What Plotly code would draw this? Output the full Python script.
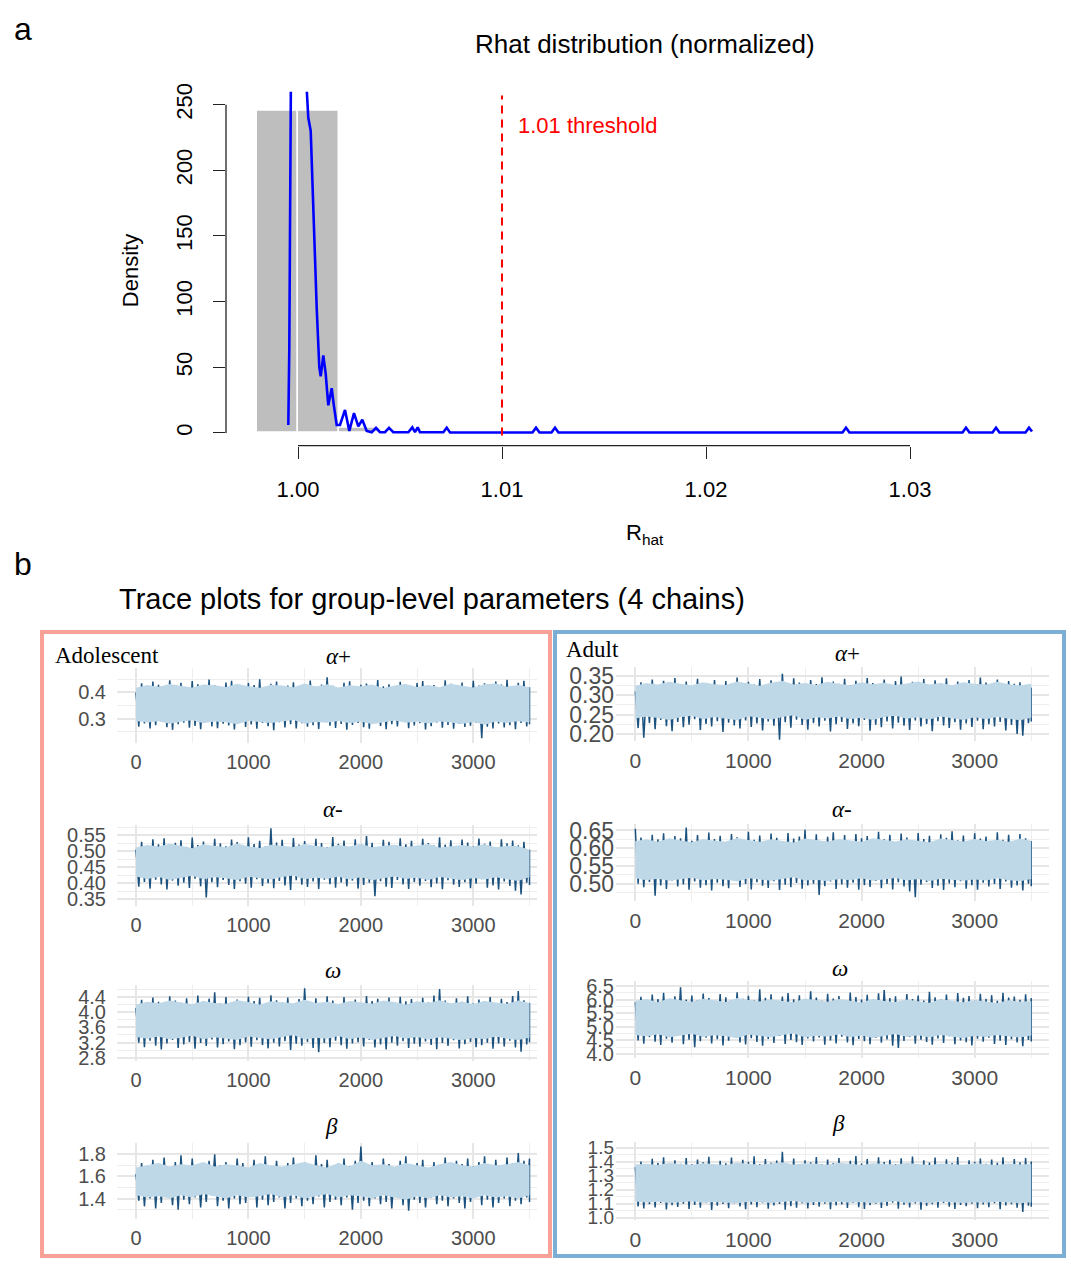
import plotly.graph_objects as go

W, H = 1071, 1267

# ---------------- Panel a: Rhat distribution ----------------
rhat_bin_left = [0.998, 1.000, 1.002]
rhat_bin_width = [0.002, 0.002, 0.002]
rhat_bin_density = [245, 245, 4]

rhat_x = [0.999525, 0.999574, 0.999657, 0.99985, 1.00005, 1.00025, 1.000426, 1.000505,
          1.000623, 1.00075, 1.000917, 1.001044, 1.001113, 1.00124, 1.001358, 1.001485,
          1.001652, 1.001765, 1.001897, 1.002059, 1.002304, 1.002515, 1.002745, 1.002956,
          1.003152, 1.003368, 1.003613, 1.003824, 1.00402, 1.004265, 1.004461, 1.004672,
          1.005407, 1.005603, 1.005735, 1.005868, 1.00598, 1.007123, 1.007289, 1.007451,
          1.011495, 1.011667, 1.011838, 1.012426, 1.012598, 1.012769, 1.026691, 1.026863,
          1.027034, 1.032574, 1.032745, 1.032917, 1.034044, 1.034216, 1.034387, 1.035662,
          1.035833, 1.03598]
rhat_density = [6, 65, 280, 700, 800, 700, 262, 240,
                230, 170, 95, 50, 43, 59, 45, 21,
                34, 20, 6, 6, 17.5, 1.5, 15, 5,
                10, 1.5, 0.5, 3.8, 0.5, 0.5, 3.8, 0.5,
                0.5, 4.2, 0.5, 4.2, 0.5, 0.5, 4, 0.3,
                0.3, 4, 0.3, 0.3, 4, 0.3, 0.3, 4,
                0.3, 0.3, 4, 0.3, 0.3, 4, 0.3, 0.3,
                4, 1]
rhat_ticks = [1.00, 1.01, 1.02, 1.03]
rhat_tick_labels = ["1.00", "1.01", "1.02", "1.03"]
density_ticks = [0, 50, 100, 150, 200, 250]
rhat_threshold = 1.01

# ---------------- Panel b: trace plots ----------------
iters = list(range(0, 3600, 100))        # light-band samples
iters_fine = list(range(0, 3550, 50))    # dark-chain samples

adol_aplus_hi = [0.418, 0.428, 0.422, 0.432, 0.425, 0.419, 0.43, 0.427, 0.421, 0.433, 0.424, 0.418, 0.429, 0.426, 0.42, 0.434, 0.423, 0.431, 0.419, 0.427, 0.424, 0.43, 0.417, 0.426, 0.432, 0.421, 0.428, 0.42, 0.433, 0.425, 0.419, 0.431, 0.434, 0.422, 0.428, 0.42]
adol_aplus_lo = [0.292, 0.286, 0.291, 0.281, 0.289, 0.294, 0.283, 0.29, 0.287, 0.279, 0.292, 0.288, 0.284, 0.29, 0.295, 0.281, 0.288, 0.285, 0.292, 0.283, 0.29, 0.279, 0.287, 0.293, 0.285, 0.289, 0.282, 0.29, 0.286, 0.28, 0.288, 0.277, 0.29, 0.284, 0.291, 0.286]
adol_aplus_dk_hi = [0.40, 0.435, 0.418, 0.441, 0.429, 0.412, 0.446, 0.424, 0.437, 0.415,
                    0.443, 0.431, 0.42, 0.449, 0.427, 0.416, 0.438, 0.444, 0.422, 0.413,
                    0.436, 0.428, 0.45, 0.419, 0.433, 0.441, 0.417, 0.426, 0.439, 0.414,
                    0.432, 0.445, 0.421, 0.43, 0.458, 0.425, 0.411, 0.437, 0.442, 0.418,
                    0.429, 0.434, 0.416, 0.447, 0.423, 0.431, 0.414, 0.44, 0.427, 0.419,
                    0.436, 0.443, 0.42, 0.428, 0.415, 0.446, 0.433, 0.421, 0.438, 0.412,
                    0.444, 0.426, 0.435, 0.418, 0.441, 0.43, 0.448, 0.422, 0.437, 0.444, 0.42]
adol_aplus_dk_lo = [0.27, 0.282, 0.263, 0.276, 0.29, 0.268, 0.258, 0.279, 0.285, 0.266,
                    0.273, 0.26, 0.288, 0.271, 0.264, 0.281, 0.275, 0.259, 0.286, 0.269,
                    0.278, 0.262, 0.284, 0.272, 0.257, 0.287, 0.267, 0.279, 0.263, 0.283,
                    0.27, 0.276, 0.261, 0.289, 0.274, 0.265, 0.28, 0.258, 0.277, 0.284,
                    0.268, 0.262, 0.286, 0.273, 0.26, 0.279, 0.271, 0.288, 0.264, 0.275,
                    0.283, 0.259, 0.272, 0.286, 0.266, 0.277, 0.262, 0.281, 0.269, 0.274,
                    0.285, 0.226, 0.27, 0.263, 0.282, 0.267, 0.276, 0.26, 0.284, 0.271, 0.279]

adol_aminus_hi = [0.512, 0.52, 0.515, 0.524, 0.518, 0.51, 0.522, 0.517, 0.513, 0.525, 0.516, 0.511, 0.521, 0.518, 0.514, 0.523, 0.517, 0.512, 0.52, 0.515, 0.524, 0.513, 0.518, 0.521, 0.514, 0.519, 0.523, 0.512, 0.517, 0.52, 0.515, 0.522, 0.513, 0.518, 0.516, 0.505]
adol_aminus_lo = [0.422, 0.414, 0.42, 0.411, 0.418, 0.424, 0.413, 0.419, 0.416, 0.41, 0.421, 0.417, 0.412, 0.42, 0.425, 0.413, 0.418, 0.415, 0.421, 0.412, 0.419, 0.41, 0.416, 0.422, 0.414, 0.418, 0.411, 0.42, 0.415, 0.41, 0.417, 0.412, 0.419, 0.413, 0.408, 0.42]
adol_aminus_dk_hi = [0.505, 0.53, 0.512, 0.538, 0.522, 0.541, 0.509, 0.527, 0.535, 0.514,
                     0.543, 0.52, 0.531, 0.508, 0.539, 0.525, 0.516, 0.537, 0.529, 0.511,
                     0.544, 0.523, 0.533, 0.515, 0.572, 0.528, 0.536, 0.51, 0.542, 0.521,
                     0.532, 0.517, 0.539, 0.526, 0.513, 0.545, 0.524, 0.534, 0.509, 0.538,
                     0.519, 0.548, 0.527, 0.512, 0.536, 0.53, 0.515, 0.541, 0.522, 0.533,
                     0.51, 0.539, 0.526, 0.518, 0.544, 0.521, 0.535, 0.512, 0.537, 0.528,
                     0.516, 0.54, 0.524, 0.531, 0.511, 0.538, 0.525, 0.534, 0.519, 0.53, 0.505]
adol_aminus_dk_lo = [0.39, 0.405, 0.384, 0.412, 0.397, 0.381, 0.409, 0.393, 0.402, 0.386,
                     0.415, 0.391, 0.356, 0.404, 0.388, 0.411, 0.395, 0.383, 0.407, 0.399,
                     0.387, 0.413, 0.392, 0.401, 0.385, 0.408, 0.394, 0.38, 0.41, 0.396,
                     0.389, 0.406, 0.383, 0.412, 0.398, 0.387, 0.403, 0.391, 0.409, 0.384,
                     0.395, 0.402, 0.36, 0.407, 0.39, 0.386, 0.411, 0.397, 0.383, 0.405,
                     0.393, 0.408, 0.388, 0.4, 0.382, 0.41, 0.396, 0.389, 0.404, 0.385,
                     0.399, 0.413, 0.387, 0.394, 0.381, 0.406, 0.392, 0.377, 0.366, 0.402, 0.395]

adol_omega_hi = [4.2, 4.27, 4.23, 4.3, 4.25, 4.21, 4.29, 4.24, 4.22, 4.31, 4.26, 4.2, 4.28, 4.25, 4.23, 4.32, 4.24, 4.27, 4.21, 4.29, 4.25, 4.22, 4.3, 4.26, 4.2, 4.28, 4.24, 4.31, 4.23, 4.27, 4.21, 4.29, 4.25, 4.22, 4.3, 4.24]
adol_omega_lo = [3.35, 3.3, 3.36, 3.28, 3.33, 3.38, 3.29, 3.34, 3.31, 3.27, 3.36, 3.32, 3.29, 3.35, 3.4, 3.28, 3.33, 3.3, 3.37, 3.29, 3.34, 3.27, 3.32, 3.37, 3.3, 3.35, 3.28, 3.34, 3.31, 3.26, 3.33, 3.29, 3.36, 3.3, 3.27, 3.33]
adol_omega_dk_hi = [4.1, 4.32, 4.21, 4.38, 4.27, 4.18, 4.41, 4.3, 4.24, 4.36,
                    4.19, 4.43, 4.28, 4.35, 4.52, 4.22, 4.39, 4.26, 4.33, 4.17,
                    4.4, 4.29, 4.37, 4.2, 4.44, 4.31, 4.25, 4.38, 4.19, 4.34,
                    4.62, 4.27, 4.36, 4.22, 4.41, 4.3, 4.18, 4.39, 4.26, 4.33,
                    4.2, 4.42, 4.29, 4.35, 4.23, 4.38, 4.17, 4.4, 4.28, 4.34,
                    4.21, 4.37, 4.25, 4.43, 4.6, 4.3, 4.19, 4.36, 4.27, 4.41,
                    4.22, 4.33, 4.29, 4.39, 4.18, 4.35, 4.26, 4.42, 4.55, 4.31, 4.24]
adol_omega_dk_lo = [3.2, 3.08, 3.25, 3.12, 3.02, 3.18, 3.27, 3.06, 3.15, 3.22,
                    3.04, 3.19, 3.11, 3.28, 3.07, 3.16, 3.23, 3.03, 3.13, 3.21,
                    3.09, 3.26, 3.14, 3.05, 3.2, 3.1, 3.24, 3.01, 3.17, 3.12,
                    3.22, 3.06, 2.95, 3.19, 3.08, 3.25, 3.13, 3.04, 3.18, 3.21,
                    3.1, 3.27, 3.07, 3.15, 3.02, 3.2, 3.12, 3.24, 3.06, 3.17,
                    3.09, 3.23, 3.14, 3.03, 3.19, 3.11, 3.26, 3.05, 3.16, 3.22,
                    3.08, 3.13, 3.2, 3.04, 3.18, 3.1, 3.25, 3.07, 2.96, 3.15, 3.21]

adol_beta_hi = [1.68, 1.7, 1.72, 1.69, 1.71, 1.7, 1.73, 1.69, 1.71, 1.7, 1.68, 1.72, 1.7, 1.69, 1.71, 1.73, 1.7, 1.68, 1.72, 1.69, 1.74, 1.7, 1.71, 1.69, 1.72, 1.7, 1.68, 1.71, 1.73, 1.7, 1.69, 1.72, 1.7, 1.71, 1.73, 1.7]
adol_beta_lo = [1.43, 1.41, 1.42, 1.4, 1.43, 1.41, 1.44, 1.42, 1.4, 1.43, 1.41, 1.42, 1.44, 1.41, 1.43, 1.4, 1.42, 1.44, 1.41, 1.43, 1.42, 1.4, 1.43, 1.41, 1.39, 1.42, 1.4, 1.43, 1.41, 1.42, 1.4, 1.43, 1.41, 1.42, 1.4, 1.43]
adol_beta_dk_hi = [1.62, 1.72, 1.68, 1.75, 1.7, 1.77, 1.66, 1.73, 1.79, 1.69,
                   1.76, 1.71, 1.67, 1.74, 1.8, 1.7, 1.73, 1.68, 1.76, 1.72,
                   1.67, 1.75, 1.71, 1.78, 1.69, 1.74, 1.66, 1.72, 1.77, 1.7,
                   1.73, 1.68, 1.79, 1.71, 1.75, 1.67, 1.72, 1.76, 1.69, 1.74,
                   1.87, 1.7, 1.73, 1.67, 1.76, 1.71, 1.68, 1.74, 1.78, 1.69,
                   1.72, 1.75, 1.67, 1.73, 1.7, 1.77, 1.68, 1.74, 1.71, 1.76,
                   1.69, 1.73, 1.78, 1.7, 1.75, 1.68, 1.77, 1.72, 1.81, 1.74, 1.76]
adol_beta_dk_lo = [1.38, 1.33, 1.4, 1.31, 1.36, 1.42, 1.34, 1.3, 1.39, 1.35,
                   1.41, 1.32, 1.37, 1.43, 1.33, 1.38, 1.31, 1.4, 1.35, 1.36,
                   1.42, 1.32, 1.39, 1.34, 1.37, 1.41, 1.31, 1.36, 1.4, 1.33,
                   1.38, 1.35, 1.42, 1.32, 1.37, 1.39, 1.34, 1.41, 1.3, 1.36,
                   1.38, 1.33, 1.4, 1.35, 1.37, 1.31, 1.42, 1.34, 1.29, 1.39,
                   1.36, 1.32, 1.41, 1.35, 1.38, 1.33, 1.4, 1.36, 1.31, 1.37,
                   1.42, 1.34, 1.39, 1.32, 1.36, 1.4, 1.33, 1.38, 1.35, 1.41, 1.37]

adult_aplus_hi = [0.325, 0.332, 0.328, 0.335, 0.33, 0.326, 0.334, 0.329, 0.327, 0.336, 0.331, 0.325, 0.333, 0.338, 0.328, 0.332, 0.327, 0.335, 0.33, 0.326, 0.334, 0.329, 0.333, 0.327, 0.331, 0.336, 0.328, 0.332, 0.326, 0.334, 0.33, 0.328, 0.335, 0.329, 0.326, 0.33]
adult_aplus_lo = [0.24, 0.245, 0.241, 0.236, 0.243, 0.247, 0.238, 0.244, 0.24, 0.235, 0.246, 0.242, 0.237, 0.244, 0.248, 0.236, 0.243, 0.24, 0.245, 0.238, 0.242, 0.236, 0.244, 0.247, 0.239, 0.243, 0.237, 0.245, 0.24, 0.236, 0.243, 0.238, 0.244, 0.239, 0.235, 0.242]
adult_aplus_dk_hi = [0.31, 0.334, 0.322, 0.341, 0.327, 0.338, 0.318, 0.345, 0.329, 0.336,
                     0.321, 0.343, 0.332, 0.326, 0.34, 0.319, 0.337, 0.33, 0.346, 0.324,
                     0.335, 0.328, 0.342, 0.32, 0.339, 0.331, 0.356, 0.325, 0.344, 0.333,
                     0.323, 0.34, 0.329, 0.347, 0.321, 0.336, 0.33, 0.343, 0.326, 0.338,
                     0.319, 0.345, 0.332, 0.327, 0.341, 0.324, 0.337, 0.349, 0.322, 0.335,
                     0.329, 0.342, 0.32, 0.339, 0.331, 0.344, 0.325, 0.336, 0.328, 0.34,
                     0.323, 0.346, 0.333, 0.327, 0.341, 0.321, 0.337, 0.33, 0.334, 0.326, 0.32]
adult_aplus_dk_lo = [0.215, 0.19, 0.228, 0.212, 0.236, 0.22, 0.207, 0.231, 0.217, 0.224,
                     0.238, 0.21, 0.226, 0.219, 0.233, 0.205, 0.229, 0.222, 0.214, 0.235,
                     0.218, 0.227, 0.209, 0.232, 0.221, 0.185, 0.23, 0.216, 0.237, 0.223,
                     0.211, 0.228, 0.219, 0.234, 0.206, 0.225, 0.231, 0.213, 0.227, 0.22,
                     0.236, 0.208, 0.224, 0.217, 0.232, 0.214, 0.229, 0.221, 0.21, 0.235,
                     0.219, 0.226, 0.207, 0.233, 0.222, 0.215, 0.23, 0.211, 0.227, 0.218,
                     0.234, 0.212, 0.225, 0.219, 0.231, 0.209, 0.223, 0.2, 0.195, 0.228, 0.232]

adult_aminus_hi = [0.62, 0.625, 0.618, 0.628, 0.622, 0.617, 0.626, 0.621, 0.619, 0.629, 0.623, 0.618, 0.625, 0.62, 0.616, 0.627, 0.622, 0.619, 0.626, 0.621, 0.618, 0.628, 0.623, 0.619, 0.625, 0.62, 0.617, 0.627, 0.622, 0.619, 0.626, 0.62, 0.624, 0.618, 0.627, 0.621]
adult_aminus_lo = [0.515, 0.51, 0.514, 0.508, 0.512, 0.517, 0.509, 0.513, 0.511, 0.506, 0.515, 0.512, 0.508, 0.514, 0.518, 0.509, 0.511, 0.507, 0.513, 0.51, 0.515, 0.508, 0.512, 0.516, 0.509, 0.513, 0.507, 0.514, 0.511, 0.508, 0.512, 0.509, 0.515, 0.51, 0.507, 0.513]
adult_aminus_dk_hi = [0.655, 0.63, 0.612, 0.638, 0.625, 0.642, 0.617, 0.634, 0.628, 0.658,
                      0.621, 0.637, 0.61, 0.644, 0.626, 0.635, 0.615, 0.64, 0.631, 0.619,
                      0.646, 0.624, 0.636, 0.613, 0.641, 0.629, 0.618, 0.643, 0.627, 0.633,
                      0.652, 0.62, 0.639, 0.616, 0.632, 0.645, 0.623, 0.637, 0.611, 0.64,
                      0.628, 0.634, 0.618, 0.646, 0.625, 0.638, 0.614, 0.641, 0.63, 0.621,
                      0.643, 0.626, 0.635, 0.617, 0.639, 0.629, 0.648, 0.622, 0.636, 0.615,
                      0.642, 0.627, 0.633, 0.619, 0.645, 0.624, 0.638, 0.613, 0.64, 0.628, 0.62]
adult_aminus_dk_lo = [0.5, 0.49, 0.505, 0.466, 0.495, 0.485, 0.509, 0.492, 0.498, 0.483,
                      0.506, 0.489, 0.496, 0.481, 0.503, 0.493, 0.487, 0.508, 0.491, 0.499,
                      0.484, 0.504, 0.494, 0.488, 0.507, 0.482, 0.497, 0.49, 0.502, 0.486,
                      0.495, 0.5, 0.468, 0.493, 0.506, 0.485, 0.498, 0.489, 0.503, 0.483,
                      0.496, 0.491, 0.508, 0.487, 0.499, 0.484, 0.504, 0.492, 0.478, 0.462,
                      0.497, 0.505, 0.488, 0.494, 0.482, 0.501, 0.49, 0.507, 0.486, 0.496,
                      0.483, 0.503, 0.492, 0.499, 0.485, 0.506, 0.489, 0.495, 0.481, 0.5, 0.493]

adult_omega_hi = [5.95, 6.02, 5.9, 6.05, 5.97, 5.92, 6.03, 5.96, 5.91, 6.06, 5.98, 5.93, 6.01, 5.95, 5.9, 6.04, 5.97, 5.92, 6.02, 5.96, 5.89, 6.03, 5.95, 5.91, 6.0, 5.94, 5.88, 6.01, 5.96, 5.9, 5.98, 5.93, 5.87, 5.97, 5.92, 5.95]
adult_omega_lo = [4.7, 4.64, 4.72, 4.6, 4.68, 4.74, 4.62, 4.69, 4.65, 4.58, 4.71, 4.66, 4.61, 4.7, 4.75, 4.6, 4.67, 4.63, 4.72, 4.61, 4.68, 4.59, 4.66, 4.73, 4.62, 4.69, 4.6, 4.7, 4.65, 4.58, 4.67, 4.62, 4.7, 4.64, 4.6, 4.68]
adult_omega_dk_hi = [5.9, 6.1, 5.95, 6.18, 6.02, 6.25, 5.92, 6.12, 6.45, 6.0,
                     6.15, 5.97, 6.22, 6.05, 5.93, 6.2, 6.08, 5.98, 6.27, 6.03,
                     6.14, 5.96, 6.38, 6.06, 6.19, 5.94, 6.11, 6.24, 6.01, 6.16,
                     5.99, 6.3, 6.07, 5.95, 6.21, 6.04, 6.13, 5.92, 6.26, 6.09,
                     6.0, 6.17, 5.97, 6.23, 6.35, 6.05, 6.12, 5.93, 6.2, 6.02,
                     6.15, 5.96, 6.28, 6.08, 6.01, 6.18, 5.94, 6.24, 6.06, 6.13,
                     5.98, 6.21, 6.03, 6.16, 5.95, 6.25, 6.07, 6.11, 5.99, 6.19, 6.05]
adult_omega_dk_lo = [4.5, 4.38, 4.62, 4.45, 4.33, 4.56, 4.41, 4.68, 4.36, 4.52,
                     4.25, 4.47, 4.6, 4.39, 4.54, 4.31, 4.49, 4.64, 4.42, 4.35,
                     4.58, 4.44, 4.3, 4.55, 4.4, 4.66, 4.37, 4.51, 4.43, 4.33,
                     4.57, 4.46, 4.61, 4.34, 4.5, 4.39, 4.63, 4.42, 4.32, 4.55,
                     4.47, 4.36, 4.59, 4.41, 4.53, 4.3, 4.22, 4.48, 4.62, 4.38,
                     4.52, 4.44, 4.34, 4.57, 4.4, 4.65, 4.36, 4.5, 4.43, 4.31,
                     4.56, 4.45, 4.6, 4.37, 4.49, 4.33, 4.54, 4.42, 4.28, 4.51, 4.46]

adult_beta_hi = [1.38, 1.385, 1.375, 1.39, 1.382, 1.377, 1.388, 1.381, 1.376, 1.392, 1.383, 1.378, 1.387, 1.395, 1.38, 1.389, 1.384, 1.377, 1.391, 1.382, 1.376, 1.388, 1.383, 1.379, 1.39, 1.381, 1.375, 1.387, 1.384, 1.378, 1.389, 1.382, 1.376, 1.386, 1.38, 1.383]
adult_beta_lo = [1.115, 1.108, 1.113, 1.104, 1.11, 1.117, 1.106, 1.112, 1.109, 1.102, 1.114, 1.11, 1.105, 1.112, 1.118, 1.104, 1.111, 1.107, 1.114, 1.106, 1.112, 1.103, 1.109, 1.116, 1.105, 1.111, 1.102, 1.113, 1.108, 1.104, 1.11, 1.106, 1.114, 1.108, 1.103, 1.11]
adult_beta_dk_hi = [1.36, 1.4, 1.375, 1.42, 1.39, 1.43, 1.37, 1.41, 1.385, 1.425,
                    1.38, 1.415, 1.395, 1.435, 1.372, 1.405, 1.388, 1.428, 1.378, 1.412,
                    1.398, 1.438, 1.382, 1.418, 1.392, 1.408, 1.47, 1.385, 1.422, 1.376,
                    1.41, 1.395, 1.432, 1.38, 1.415, 1.39, 1.426, 1.374, 1.405, 1.44,
                    1.386, 1.419, 1.378, 1.43, 1.397, 1.412, 1.382, 1.424, 1.39, 1.436,
                    1.377, 1.409, 1.394, 1.428, 1.381, 1.417, 1.389, 1.433, 1.375, 1.41,
                    1.398, 1.422, 1.384, 1.414, 1.391, 1.43, 1.379, 1.418, 1.395, 1.425, 1.4]
adult_beta_dk_lo = [1.08, 1.065, 1.095, 1.072, 1.105, 1.058, 1.088, 1.076, 1.1, 1.062,
                    1.09, 1.07, 1.108, 1.055, 1.085, 1.097, 1.067, 1.102, 1.079, 1.06,
                    1.093, 1.074, 1.106, 1.064, 1.087, 1.098, 1.057, 1.082, 1.071, 1.103,
                    1.066, 1.091, 1.077, 1.1, 1.059, 1.086, 1.094, 1.069, 1.104, 1.075,
                    1.061, 1.089, 1.099, 1.068, 1.083, 1.107, 1.063, 1.092, 1.073, 1.101,
                    1.056, 1.084, 1.096, 1.07, 1.105, 1.078, 1.062, 1.09, 1.081, 1.099,
                    1.067, 1.093, 1.074, 1.103, 1.06, 1.087, 1.095, 1.071, 1.04, 1.085, 1.078]

# ---------------- layout helpers ----------------
FONT = "Liberation Sans, Arial, sans-serif"
SERIF = "Liberation Serif, Times New Roman, serif"
LIGHT = "#BED8E8"
DARK = "#1B527F"
GRID_MAJ = "#E6E6E6"
GRID_MIN = "#EEEEEE"


def lin_range(p0, p1, va, pa, vb, pb):
    s = (vb - va) / (pb - pa)
    return [va + (p0 - pa) * s, va + (p1 - pa) * s]


def ann(text, x, y, size, family=FONT, color="black", xanchor="center", yanchor="middle", angle=0):
    return dict(text=text, x=x / W, y=1 - y / H, xref="paper", yref="paper", showarrow=False,
                font=dict(size=size, family=family, color=color), xanchor=xanchor,
                yanchor=yanchor, textangle=angle)


fig = go.Figure()
annotations = []
shapes = []

# ---- panel a ----
fig.add_trace(go.Bar(x=rhat_bin_left, y=rhat_bin_density, width=rhat_bin_width, offset=0,
                     marker=dict(color="#BEBEBE", line=dict(color="white", width=1.5)),
                     xaxis="x", yaxis="y", showlegend=False))
fig.add_trace(go.Scatter(x=rhat_x, y=rhat_density, mode="lines",
                         line=dict(color="#0000FF", width=2.6), xaxis="x", yaxis="y",
                         showlegend=False))

A_L, A_R, A_T, A_B = 226, 1063, 84, 443
layout = dict(
    width=W, height=H, margin=dict(l=0, r=0, t=0, b=0),
    paper_bgcolor="white", plot_bgcolor="white", showlegend=False, bargap=0,
    xaxis=dict(domain=[A_L / W, A_R / W], range=lin_range(A_L, A_R, 1.00, 298, 1.03, 910),
               tickmode="array", tickvals=rhat_ticks, ticktext=rhat_tick_labels,
               ticks="outside", ticklen=12, tickwidth=1.3, tickcolor="#222",
               showgrid=False, zeroline=False, showline=False, anchor="y",
               tickfont=dict(family=FONT, size=22, color="black"), ticklabelstandoff=12),
    yaxis=dict(domain=[1 - A_B / H, 1 - A_T / H], range=lin_range(A_B, A_T, 0, 430, 250, 97),
               tickmode="array", tickvals=density_ticks,
               ticks="outside", ticklen=12, tickwidth=1.3, tickcolor="#222",
               showgrid=False, zeroline=False, showline=False, anchor="x", tickangle=-90,
               tickfont=dict(family=FONT, size=22, color="black"), ticklabelstandoff=12),
)
shapes.append(dict(type="line", xref="paper", yref="y", x0=A_L / W, x1=A_L / W,
                   y0=density_ticks[0], y1=density_ticks[-1], line=dict(color="#222", width=1.3)))
shapes.append(dict(type="line", xref="x", yref="paper", x0=rhat_ticks[0], x1=rhat_ticks[-1],
                   y0=1 - A_B / H, y1=1 - A_B / H, line=dict(color="#222", width=1.3)))
shapes.append(dict(type="line", xref="x", yref="y", x0=rhat_threshold, x1=rhat_threshold,
                   y0=-2, y1=257, line=dict(color="#FF0000", width=2, dash="8px,6px")))

annotations += [
    ann("a", 23, 20, 32),
    ann("Rhat distribution (normalized)", 645, 35, 26),
    ann("1.01 threshold", 516, 118, 22, color="#FF0000", xanchor="left"),
    ann("Density", 130, 266, 22, angle=-90),
    ann("R<sub>hat</sub>", 645, 533, 22),
    ann("b", 23, 563, 32),
    ann("Trace plots for group-level parameters (4 chains)", 117, 598, 29, xanchor="left"),
    ann("Adolescent", 53, 656, 23, family=SERIF, xanchor="left"),
    ann("Adult", 564, 650, 23, family=SERIF, xanchor="left"),
]

# ---- panel b ----
panels = [
    dict(hi=adol_aplus_hi, lo=adol_aplus_lo, dh=adol_aplus_dk_hi, dl=adol_aplus_dk_lo, col="L",
         T=668, B=745, ta=(0.4, 693.3), tb=(0.3, 720), dt=0.1, fmt=".1f",
         title="<i>α</i>+", tx=338, ty=657, yfs=20),
    dict(hi=adol_aminus_hi, lo=adol_aminus_lo, dh=adol_aminus_dk_hi, dl=adol_aminus_dk_lo, col="L",
         T=828, B=910, ta=(0.55, 838.3), tb=(0.35, 903.3), dt=0.05, fmt=".2f",
         title="<i>α</i>-", tx=333, ty=812, yfs=20),
    dict(hi=adol_omega_hi, lo=adol_omega_lo, dh=adol_omega_dk_hi, dl=adol_omega_dk_lo, col="L",
         T=990, B=1067, ta=(4.4, 1002), tb=(2.8, 1064), dt=0.4, fmt=".1f",
         title="<i>ω</i>", tx=333, ty=975, yfs=20),
    dict(hi=adol_beta_hi, lo=adol_beta_lo, dh=adol_beta_dk_hi, dl=adol_beta_dk_lo, col="L",
         T=1150, B=1227, ta=(1.8, 1161.7), tb=(1.4, 1206.7), dt=0.2, fmt=".1f",
         title="<i>β</i>", tx=331, ty=1134, yfs=20),
    dict(hi=adult_aplus_hi, lo=adult_aplus_lo, dh=adult_aplus_dk_hi, dl=adult_aplus_dk_lo, col="R",
         T=667, B=743, ta=(0.35, 676.7), tb=(0.20, 735.3), dt=0.05, fmt=".2f",
         title="<i>α</i>+", tx=847, ty=654, yfs=23),
    dict(hi=adult_aminus_hi, lo=adult_aminus_lo, dh=adult_aminus_dk_hi, dl=adult_aminus_dk_lo, col="R",
         T=827, B=905, ta=(0.65, 833.3), tb=(0.50, 887.3), dt=0.05, fmt=".2f",
         title="<i>α</i>-", tx=842, ty=812, yfs=23),
    dict(hi=adult_omega_hi, lo=adult_omega_lo, dh=adult_omega_dk_hi, dl=adult_omega_dk_lo, col="R",
         T=986, B=1064, ta=(6.5, 991), tb=(4.0, 1060), dt=0.5, fmt=".1f",
         title="<i>ω</i>", tx=840, ty=973, yfs=20),
    dict(hi=adult_beta_hi, lo=adult_beta_lo, dh=adult_beta_dk_hi, dl=adult_beta_dk_lo, col="R",
         T=1149, B=1228, ta=(1.5, 1155), tb=(1.0, 1226), dt=0.1, fmt=".1f",
         title="<i>β</i>", tx=838, ty=1131, yfs=19),
]

COLS = {
    "L": dict(L=117, R=537, a=(0, 136), b=(3000, 473.3), xfs=20),
    "R": dict(L=616, R=1049, a=(0, 635.3), b=(3000, 974.7), xfs=21),
}

for i, p in enumerate(panels):
    k = i + 2
    xn, yn = f"x{k}", f"y{k}"
    c = COLS[p["col"]]
    zx, zy = [], []
    for it, vh, vl in zip(iters_fine, p["dh"], p["dl"]):
        zx += [it, min(it + 25, iters_fine[-1])]
        zy += [vh, vl]
    fig.add_trace(go.Scatter(x=zx, y=zy, mode="lines", line=dict(color=DARK, width=1.5),
                             xaxis=xn, yaxis=yn, showlegend=False, hoverinfo="skip"))
    fig.add_trace(go.Scatter(x=iters + iters[::-1], y=p["hi"] + p["lo"][::-1], mode="lines",
                             fill="toself", fillcolor=LIGHT, line=dict(width=0, color=LIGHT),
                             xaxis=xn, yaxis=yn, showlegend=False, hoverinfo="skip"))
    layout[f"xaxis{k}"] = dict(
        domain=[c["L"] / W, c["R"] / W],
        range=lin_range(c["L"], c["R"], c["a"][0], c["a"][1], c["b"][0], c["b"][1]),
        anchor=yn, tick0=0, dtick=1000, ticks="", showline=False, zeroline=False,
        showgrid=True, gridcolor=GRID_MAJ, gridwidth=2.4,
        minor=dict(dtick=500, tick0=0, showgrid=True, gridcolor=GRID_MIN, gridwidth=1.4),
        tickfont=dict(family=FONT, size=c["xfs"], color="#4D4D4D"), ticklabelstandoff=5)
    layout[f"yaxis{k}"] = dict(
        domain=[1 - p["B"] / H, 1 - p["T"] / H],
        range=lin_range(p["B"], p["T"], p["ta"][0], p["ta"][1], p["tb"][0], p["tb"][1]),
        anchor=xn, tick0=0, dtick=p["dt"], tickformat=p["fmt"], ticks="", showline=False,
        zeroline=False, showgrid=True, gridcolor=GRID_MAJ, gridwidth=2.2,
        minor=dict(dtick=p["dt"] / 2, tick0=0, showgrid=True, gridcolor=GRID_MIN, gridwidth=1.4),
        tickfont=dict(family=FONT, size=p["yfs"], color="#4D4D4D"),
        ticklabelstandoff=(10 if p["col"] == "L" else 1))
    annotations.append(ann(p["title"], p["tx"], p["ty"], 23, family=SERIF))

shapes.append(dict(type="rect", xref="paper", yref="paper", x0=42 / W, x1=550 / W,
                   y0=1 - 1265 / H, y1=1 - 632 / H, line=dict(color="#F9A197", width=4)))
shapes.append(dict(type="rect", xref="paper", yref="paper", x0=555 / W, x1=1064 / W,
                   y0=1 - 1265 / H, y1=1 - 632 / H, line=dict(color="#7DAFD4", width=4)))

layout["annotations"] = annotations
layout["shapes"] = shapes
fig.update_layout(**layout)
fig.write_html("out.html",
               post_script="document.body.style.margin='0';document.body.style.overflow='hidden';",
               config={"displayModeBar": False})
